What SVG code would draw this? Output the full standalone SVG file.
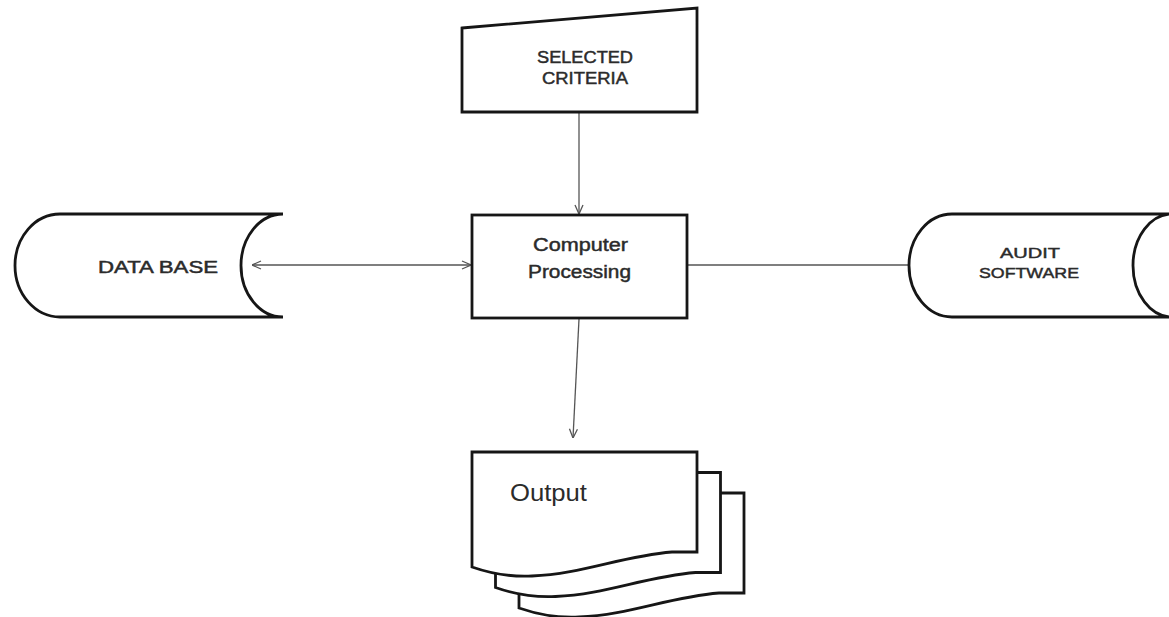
<svg xmlns="http://www.w3.org/2000/svg" xmlns:xlink="http://www.w3.org/1999/xlink" width="1169" height="617" viewBox="0 0 1169 617">
<style>
.shape{fill:#fff;stroke:#161616;stroke-width:2.8;stroke-linejoin:miter}
.conn{fill:none;stroke:#555;stroke-width:1.3}
.lbl{font-family:"Liberation Sans",Arial,sans-serif;fill:#2b2b2b;stroke:#2b2b2b;stroke-width:0.45}
.plain{stroke:none}
</style>
<defs>
<marker id="open" viewBox="0 0 10 10" refX="10" refY="5" markerWidth="10" markerHeight="10" markerUnits="userSpaceOnUse" orient="auto-start-reverse">
<path d="M1 1 L10 5 L1 9" fill="none" stroke="#555" stroke-width="1.3"/>
</marker>
<path id="page" d="M0 0 H225 V100 L200 100 C150 104 110 122 60 124 C40 125 20 122 0 115 Z"/>
</defs>
<rect width="1169" height="617" fill="#fff"/>
<g id="connectors">
<line class="conn" x1="579" y1="112" x2="579" y2="214" marker-end="url(#open)"/>
<line class="conn" x1="252" y1="265" x2="471" y2="265" marker-start="url(#open)" marker-end="url(#open)"/>
<line class="conn" x1="687" y1="265" x2="909" y2="265"/>
<line class="conn" x1="579" y1="319" x2="573" y2="438" marker-end="url(#open)"/>
</g>
<g id="selected-criteria">
<polygon class="shape" points="462,28 697,8 697,112 462,112"/>
<text class="lbl" x="537" y="63" font-size="16" textLength="96" lengthAdjust="spacingAndGlyphs">SELECTED</text>
<text class="lbl" x="542" y="84" font-size="16" textLength="86" lengthAdjust="spacingAndGlyphs">CRITERIA</text>
</g>
<g id="computer-processing">
<rect class="shape" x="472" y="215" width="215" height="103"/>
<text class="lbl" x="533" y="251" font-size="18" textLength="95" lengthAdjust="spacingAndGlyphs" stroke-width="0.25">Computer</text>
<text class="lbl" x="528" y="278" font-size="18" textLength="103" lengthAdjust="spacingAndGlyphs" stroke-width="0.25">Processing</text>
</g>
<g id="data-base">
<path class="shape" d="M283 214 L60 214 A45 51.5 0 0 0 60 317 L283 317 A42 51.5 0 0 1 283 214 Z"/>
<text class="lbl" x="98" y="273" font-size="16" textLength="120" lengthAdjust="spacingAndGlyphs">DATA BASE</text>
</g>
<g id="audit-software">
<path class="shape" d="M1172 214 L952 214 A43 51.5 0 0 0 952 317 L1172 317 A39 51.5 0 0 1 1172 214 Z"/>
<text class="lbl" x="1000" y="258" font-size="15" textLength="60" lengthAdjust="spacingAndGlyphs">AUDIT</text>
<text class="lbl" x="979" y="278" font-size="15" textLength="100" lengthAdjust="spacingAndGlyphs">SOFTWARE</text>
</g>
<g id="output">
<use xlink:href="#page" href="#page" class="shape" transform="translate(519,493)"/>
<use xlink:href="#page" href="#page" class="shape" transform="translate(495.5,472.5)"/>
<use xlink:href="#page" href="#page" class="shape" transform="translate(472,452)"/>
<text class="lbl plain" x="510" y="501" font-size="23" textLength="77" lengthAdjust="spacingAndGlyphs">Output</text>
</g>
</svg>
